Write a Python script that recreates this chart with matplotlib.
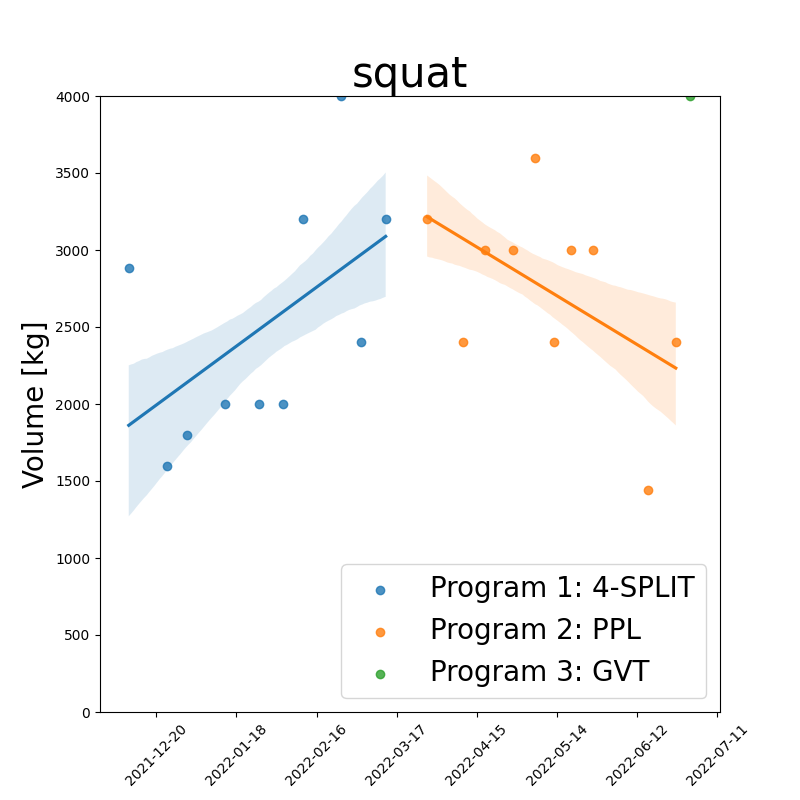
import datetime as dt
import matplotlib
matplotlib.use("Agg")
import matplotlib.pyplot as plt
import seaborn as sns
import numpy as np

p1_dates = ["2021-12-10", "2021-12-24", "2021-12-31", "2022-01-14", "2022-01-26",
            "2022-02-04", "2022-02-11", "2022-02-25", "2022-03-04", "2022-03-13"]
p1_volume = [2880, 1600, 1800, 2000, 2000, 2000, 3200, 4000, 2400, 3200]

p2_dates = ["2022-03-28", "2022-04-10", "2022-04-18", "2022-04-28", "2022-05-06",
            "2022-05-13", "2022-05-19", "2022-05-27", "2022-06-16", "2022-06-26"]
p2_volume = [3200, 2400, 3000, 3000, 3600, 2400, 3000, 3000, 1440, 2400]

p3_dates = ["2022-07-01"]
p3_volume = [4000]

tick_dates = ["2021-12-20", "2022-01-18", "2022-02-16", "2022-03-17",
              "2022-04-15", "2022-05-14", "2022-06-12", "2022-07-11"]


def to_ord(dates):
    return np.array([dt.date.fromisoformat(d).toordinal() for d in dates], dtype=float)


fig, ax = plt.subplots(figsize=(8, 8), dpi=100)
sns.regplot(x=to_ord(p1_dates), y=np.array(p1_volume), ax=ax, ci=68, seed=1,
            label="Program 1: 4-SPLIT")
sns.regplot(x=to_ord(p2_dates), y=np.array(p2_volume), ax=ax, ci=68, seed=1,
            label="Program 2: PPL")
sns.regplot(x=to_ord(p3_dates), y=np.array(p3_volume), ax=ax, ci=68, seed=1,
            label="Program 3: GVT")

ticks = to_ord(tick_dates)
ax.set_xticks(ticks)
ax.set_xticklabels(tick_dates, rotation=45)
ax.set_xlim(dt.date(2021, 11, 29).toordinal() + 0.6, dt.date(2022, 7, 12).toordinal())
ax.set_ylim(0, 4000)
ax.set_title("squat", fontsize=30)
ax.set_ylabel("Volume [kg]", fontsize=20)
ax.legend(loc="lower right", fontsize=20)

fig.savefig("out.png")
